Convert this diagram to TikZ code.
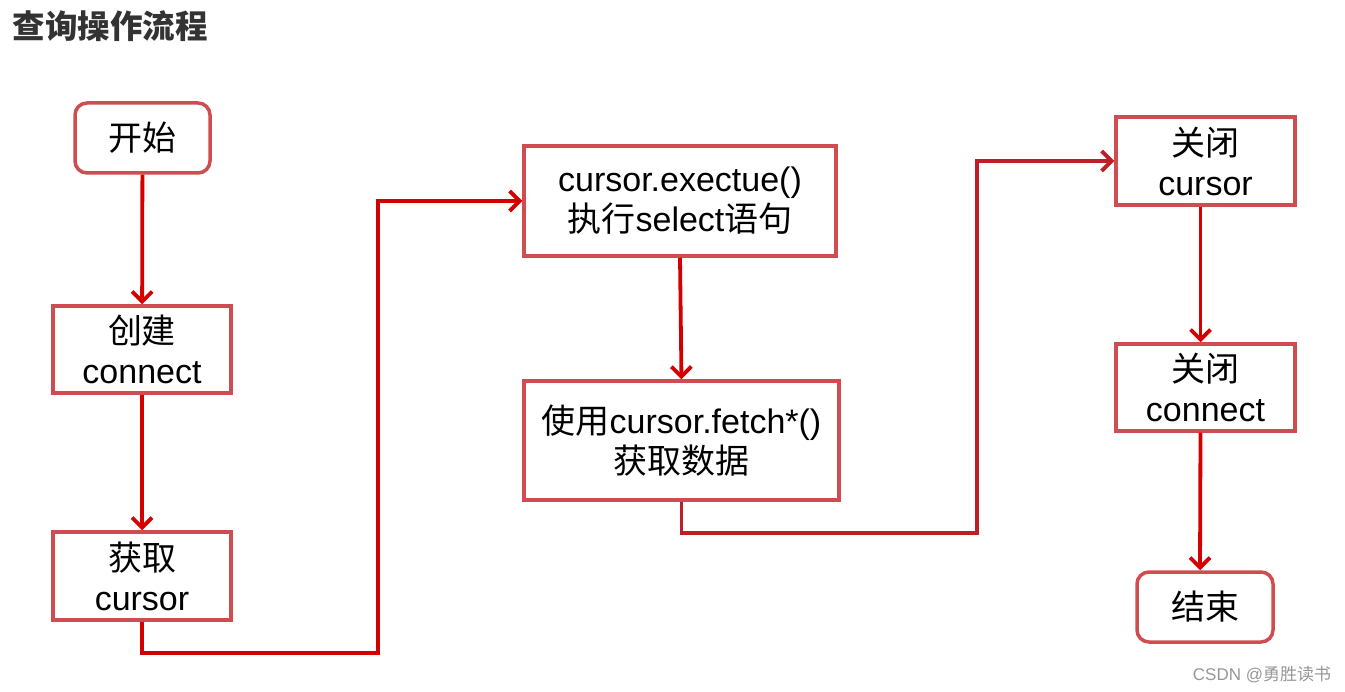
\documentclass[tikz,border=0pt]{standalone}
\usepackage{fontspec}
\setmainfont{Liberation Sans}
\newfontfamily\cjk{Noto Sans CJK SC}
\usetikzlibrary{arrows.meta}
\definecolor{boxred}{RGB}{207,77,80}
\definecolor{arrred}{RGB}{212,0,0}
\definecolor{darkred}{RGB}{192,30,38}
\definecolor{titlegray}{RGB}{51,51,51}
\definecolor{wmgray}{RGB}{150,150,150}
\tikzset{
  box/.style={draw=boxred, line width=3.5pt, inner sep=0pt, align=center,
    font=\fontsize{34}{40}\selectfont},
  roundbox/.style={box, rounded corners=12pt},
  conn/.style={draw=arrred, line width=3.8pt, -{Straight Barb[length=10pt,width=20pt]}},
  conndark/.style={conn, draw=darkred}
}
\begin{document}
\begin{tikzpicture}[x=1pt,y=-1pt]
\useasboundingbox (0,0) rectangle (1345,692);
\node[anchor=west, text=titlegray, font=\fontsize{32.5}{36}\selectfont] (title) at (9,26) {\cjk\bfseries 查询操作流程};

\node[roundbox, minimum width=135pt, minimum height=70pt] (start) at (142.5,138) {\cjk 开始};
\node[box, minimum width=178pt, minimum height=87pt] (create) at (142,349.5) {{\cjk 创建}\\connect};
\node[box, minimum width=178pt, minimum height=88pt] (getcur) at (142,576) {{\cjk 获取}\\cursor};
\node[box, minimum width=312pt, minimum height=110pt] (exec) at (680,201) {cursor.exectue()\\{\cjk 执行}select{\cjk 语句}};
\node[box, minimum width=315pt, minimum height=119pt] (fetch) at (681.5,440.5) {{\cjk 使用}cursor.fetch*()\\{\cjk 获取数据}};
\node[box, minimum width=179pt, minimum height=88pt] (closecur) at (1205.5,161) {{\cjk 关闭}\\cursor};
\node[box, minimum width=179pt, minimum height=87pt] (closecon) at (1205.5,387.5) {{\cjk 关闭}\\connect};
\node[roundbox, minimum width=136pt, minimum height=70pt] (end) at (1205,607) {\cjk 结束};

\node[text=wmgray, font=\fontsize{17}{20}\selectfont] (wm) at (1262,675) {CSDN @{\cjk 勇胜读书}};

\coordinate (b1) at (378,653);
\coordinate (b2) at (977,533);

\draw[conn] (start) -- (create);
\draw[conn] (create) -- (getcur);
\draw[conn] (getcur.south) |- (b1) |- (exec.west);
\draw[conn] (exec.south) -- (fetch.north);
\draw[conndark] (fetch.south) |- (b2) |- (closecur.west);
\draw[conn] ([xshift=-5pt]closecur.south) -- ([xshift=-5pt]closecon.north);
\draw[conn] ([xshift=-5pt]closecon.south) -- ([xshift=-5pt]end.north);
\end{tikzpicture}
\end{document}
